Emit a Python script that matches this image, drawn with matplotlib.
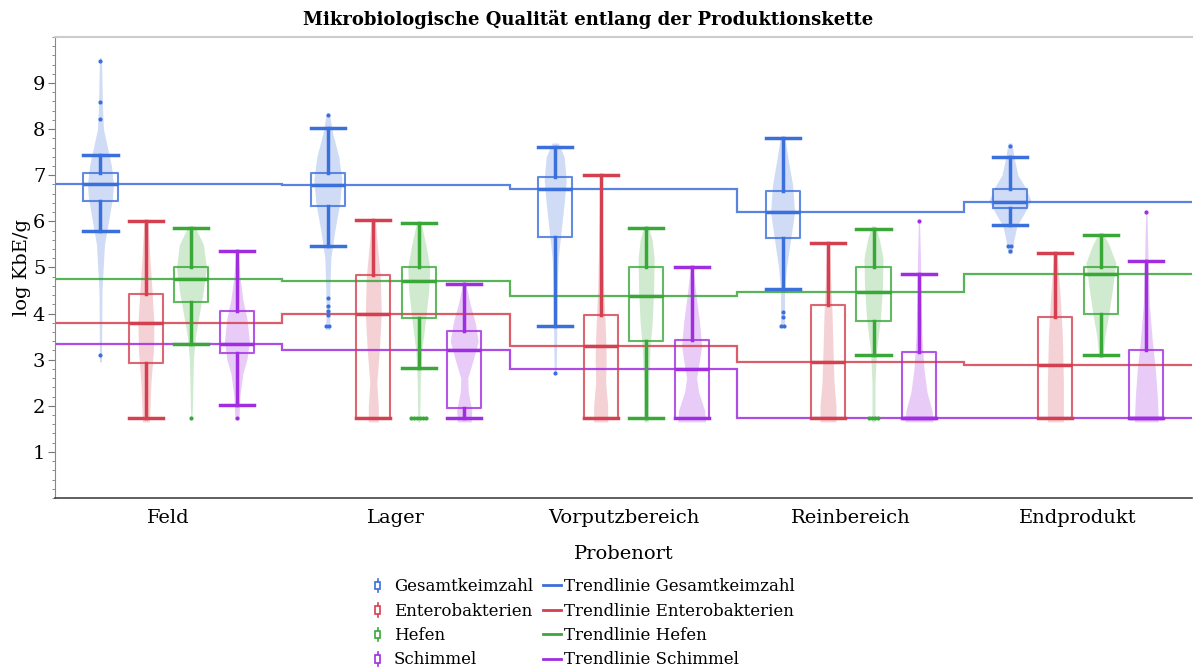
import numpy as np
import matplotlib.pyplot as plt
from matplotlib.legend_handler import HandlerBase
from matplotlib.lines import Line2D
from matplotlib.patches import Rectangle
from matplotlib.ticker import MultipleLocator

plt.rcParams['font.family'] = ['DejaVu Serif']

# Kategorien
orte = ['Feld', 'Lager', 'Vorputzbereich', 'Reinbereich', 'Endprodukt']
keime = ['Gesamtkeimzahl', 'Enterobakterien', 'Hefen', 'Schimmel']
farben = ['#3b6fdb', '#d4404f', '#39a839', '#a12de0']

# Boxplot-Kennwerte (log KbE/g), je Probenort
gesamt_whislo = [5.78, 5.46, 3.72, 4.54, 5.92]
gesamt_q1 = [6.44, 6.34, 5.66, 5.63, 6.28]
gesamt_med = [6.82, 6.79, 6.70, 6.20, 6.43]
gesamt_q3 = [7.05, 7.05, 6.97, 6.66, 6.71]
gesamt_whishi = [7.43, 8.03, 7.61, 7.80, 7.39]
gesamt_fliers = [[3.10, 8.23, 8.58, 9.48],
                 [3.72, 3.72, 3.97, 4.06, 4.17, 4.34, 8.30],
                 [2.72],
                 [3.72, 3.72, 3.92, 4.03],
                 [5.36, 5.47, 5.47, 7.64]]

entero_whislo = [1.73, 1.73, 1.73, 1.73, 1.73]
entero_q1 = [2.93, 1.73, 1.73, 1.73, 1.73]
entero_med = [3.80, 3.98, 3.30, 2.95, 2.89]
entero_q3 = [4.42, 4.83, 3.97, 4.19, 3.93]
entero_whishi = [6.00, 6.04, 7.00, 5.53, 5.32]
entero_fliers = [[], [], [], [], []]

hefen_whislo = [3.33, 2.81, 1.73, 3.10, 3.11]
hefen_q1 = [4.25, 3.90, 3.41, 3.84, 3.98]
hefen_med = [4.75, 4.70, 4.39, 4.47, 4.86]
hefen_q3 = [5.01, 5.02, 5.02, 5.02, 5.02]
hefen_whishi = [5.85, 5.96, 5.86, 5.83, 5.70]
hefen_fliers = [[1.73], [1.73] * 6, [], [1.73] * 4, []]

schimmel_whislo = [2.02, 1.73, 1.73, 1.73, 1.73]
schimmel_q1 = [3.14, 1.96, 1.73, 1.73, 1.73]
schimmel_med = [3.34, 3.22, 2.80, 1.73, 1.73]
schimmel_q3 = [4.05, 3.62, 3.42, 3.17, 3.20]
schimmel_whishi = [5.36, 4.64, 5.01, 4.86, 5.13]
schimmel_fliers = [[1.73], [], [], [6.00], [6.20]]

gesamt_violin = [
    [(2.95, 1), (4.5, 1.5), (5.5, 4), (6.0, 8), (6.5, 12), (6.8, 13), (7.2, 11), (7.6, 7), (8.0, 3), (8.5, 2), (9.55, 1)],
    [(3.65, 2), (4.5, 2), (5.2, 3), (5.8, 7), (6.4, 12), (6.9, 14), (7.4, 11), (7.9, 5), (8.35, 1.5)],
    [(2.7, 1), (3.5, 1.5), (4.5, 2), (5.2, 3), (5.8, 6), (6.4, 9), (6.9, 11), (7.4, 9), (7.7, 3)],
    [(3.7, 2), (4.5, 2), (5.0, 4), (5.6, 8), (6.2, 12), (6.8, 10), (7.3, 6), (7.85, 2)],
    [(5.3, 2), (5.6, 4), (5.9, 7), (6.2, 15), (6.45, 21), (6.75, 15), (7.0, 8), (7.4, 4), (7.7, 2)],
]
entero_violin = [
    [(1.65, 3.5), (2.5, 5), (3.2, 7.5), (3.8, 8), (4.5, 6), (5.2, 4), (6.0, 2)],
    [(1.65, 5), (2.0, 5), (2.5, 3.5), (3.2, 6), (4.0, 8), (4.8, 7), (5.5, 4), (6.05, 2)],
    [(1.65, 7), (2.0, 7), (2.5, 5), (3.0, 5.5), (3.5, 5), (4.5, 3), (5.5, 2), (6.5, 1), (7.0, 0.5)],
    [(1.65, 8), (2.0, 8), (2.5, 6), (3.2, 5), (4.0, 4), (4.8, 2.5), (5.55, 1.5)],
    [(1.65, 8), (2.5, 8), (3.5, 7), (4.3, 5), (4.9, 3), (5.35, 1.5)],
]
hefen_violin = [
    [(1.7, 0.5), (2.0, 1), (3.0, 2), (3.5, 4), (4.0, 8), (4.5, 12), (5.0, 15), (5.5, 12), (5.9, 3)],
    [(1.65, 1), (2.5, 1.5), (3.2, 3), (3.9, 7), (4.5, 10), (5.0, 11), (5.5, 7), (6.0, 2)],
    [(1.65, 2), (2.5, 2.5), (3.3, 4), (3.8, 6), (4.5, 7.5), (5.2, 8), (5.6, 6), (5.9, 2)],
    [(1.65, 1.5), (2.5, 1.5), (3.2, 3), (3.9, 7), (4.6, 9), (5.2, 9.5), (5.6, 6), (5.9, 2)],
    [(3.05, 2), (3.5, 4), (4.0, 8), (4.6, 12), (5.1, 15), (5.5, 8), (5.75, 2)],
]
schimmel_violin = [
    [(1.7, 2), (2.2, 3), (2.7, 6), (3.0, 10), (3.4, 12.5), (3.9, 10), (4.3, 6), (4.8, 3), (5.4, 1)],
    [(1.65, 7), (1.9, 7.5), (2.3, 4), (2.6, 3.5), (3.0, 9), (3.4, 14), (3.8, 11), (4.2, 6), (4.7, 1)],
    [(1.65, 14), (1.9, 13), (2.3, 7), (2.6, 5), (3.0, 8), (3.3, 10), (3.8, 8), (4.3, 5), (5.05, 1)],
    [(1.65, 14), (1.9, 13), (2.3, 8), (2.8, 5), (3.5, 3), (4.5, 2), (5.2, 1.5), (6.05, 0.5)],
    [(1.65, 12), (2.2, 11), (2.8, 9), (3.4, 6), (4.2, 3), (5.0, 2), (6.25, 0.5)],
]

serien = [
    (gesamt_whislo, gesamt_q1, gesamt_med, gesamt_q3, gesamt_whishi, gesamt_fliers, gesamt_violin),
    (entero_whislo, entero_q1, entero_med, entero_q3, entero_whishi, entero_fliers, entero_violin),
    (hefen_whislo, hefen_q1, hefen_med, hefen_q3, hefen_whishi, hefen_fliers, hefen_violin),
    (schimmel_whislo, schimmel_q1, schimmel_med, schimmel_q3, schimmel_whishi, schimmel_fliers, schimmel_violin),
]

fig, ax = plt.subplots(figsize=(11.93, 6.72), dpi=100)
fig.subplots_adjust(left=0.0461, right=0.999, top=0.945, bottom=0.259)

versatz = [-0.30, -0.10, 0.10, 0.30]
px = 1 / 227.4  # Breite eines Pixels in x-Einheiten
x = np.arange(len(orte))
kanten = np.arange(-0.5, len(orte) + 0.5, 1)

for k, (wl, q1, med, q3, wh, fl, vio) in enumerate(serien):
    c = farben[k]
    pos = x + versatz[k]
    # Violinen
    for i in range(len(orte)):
        ys = np.array([p[0] for p in vio[i]])
        ws = np.array([p[1] for p in vio[i]]) * px
        ax.fill_betweenx(ys, pos[i] - ws, pos[i] + ws, color=c, alpha=0.24, lw=0, zorder=1)
    # Boxen
    stats = [dict(whislo=wl[i], q1=q1[i], med=med[i], q3=q3[i], whishi=wh[i], fliers=[])
             for i in range(len(orte))]
    ax.bxp(stats, positions=pos, widths=0.15, capwidths=0.15, showfliers=False,
           boxprops=dict(color=c, lw=1.5, alpha=0.8),
           whiskerprops=dict(color=c, lw=2.5),
           capprops=dict(color=c, lw=2.5),
           medianprops=dict(color=c, lw=2.5),
           manage_ticks=False, zorder=3)
    # Ausreißer (gleiche Werte nebeneinander)
    for i in range(len(orte)):
        werte, anzahl = np.unique(fl[i], return_counts=True)
        for w, n in zip(werte, anzahl):
            dx = (np.arange(n) - (n - 1) / 2) * 0.013
            ax.plot(pos[i] + dx, [w] * n, 'o', color=c, ms=3, mew=0, zorder=4)
    # Trendlinie (Median je Probenort)
    ax.stairs(med, kanten, baseline=None, color=c, lw=1.6, alpha=0.85, zorder=2)

ax.set_xlim(-0.5, len(orte) - 0.5)
ax.set_ylim(0, 10)
ax.set_xticks(x)
ax.set_xticklabels(orte, fontsize=14)
ax.tick_params(axis='x', length=0, pad=8)
ax.yaxis.set_major_locator(MultipleLocator(1))
ax.yaxis.set_minor_locator(MultipleLocator(0.2))
ax.set_yticks(range(1, 10))
ax.tick_params(axis='y', which='major', length=5, color='#777777', labelsize=14, pad=2)
ax.tick_params(axis='y', which='minor', length=2.5, color='#777777')

ax.spines['right'].set_visible(False)
ax.spines['top'].set_color('#cccccc')
ax.spines['top'].set_linewidth(1.5)
ax.spines['left'].set_color('#888888')
ax.spines['bottom'].set_color('#444444')
ax.spines['bottom'].set_linewidth(1.2)

ax.set_xlabel('Probenort', fontsize=14, labelpad=13)
ax.set_ylabel('log KbE/g', fontsize=14, labelpad=1)
fig.suptitle('Mikrobiologische Qualität entlang der Produktionskette',
             x=0.493, y=0.985, fontsize=13, fontweight='bold')


# Legende mit kleinen Box-Symbolen
class BoxHandler(HandlerBase):
    def create_artists(self, legend, orig, xd, yd, width, height, fontsize, trans):
        c = orig.get_color()
        cx = -xd + width * 0.3
        bw = height * 0.42
        ln = Line2D([cx, cx], [-yd - height * 0.1, -yd + height * 1.05], color=c, lw=1.2, transform=trans)
        rect = Rectangle((cx - bw / 2, -yd + height * 0.15), bw, height * 0.65,
                         fc='white', ec=c, lw=1.2, transform=trans)
        return [ln, rect]


box_handles = [Line2D([], [], color=c) for c in farben]
trend_handles = [Line2D([], [], color=c, lw=2) for c in farben]
labels = keime + ['Trendlinie ' + k for k in keime]
fig.legend(box_handles + trend_handles, labels, ncol=2, loc='upper left',
           bbox_to_anchor=(372 / 1193, 1 - 578 / 672), frameon=False, fontsize=12,
           handlelength=1.1, handletextpad=0.2, columnspacing=0.6, labelspacing=0.45,
           borderaxespad=0, borderpad=0,
           handler_map={h: BoxHandler() for h in box_handles})

fig.savefig('out.png', dpi=100)
